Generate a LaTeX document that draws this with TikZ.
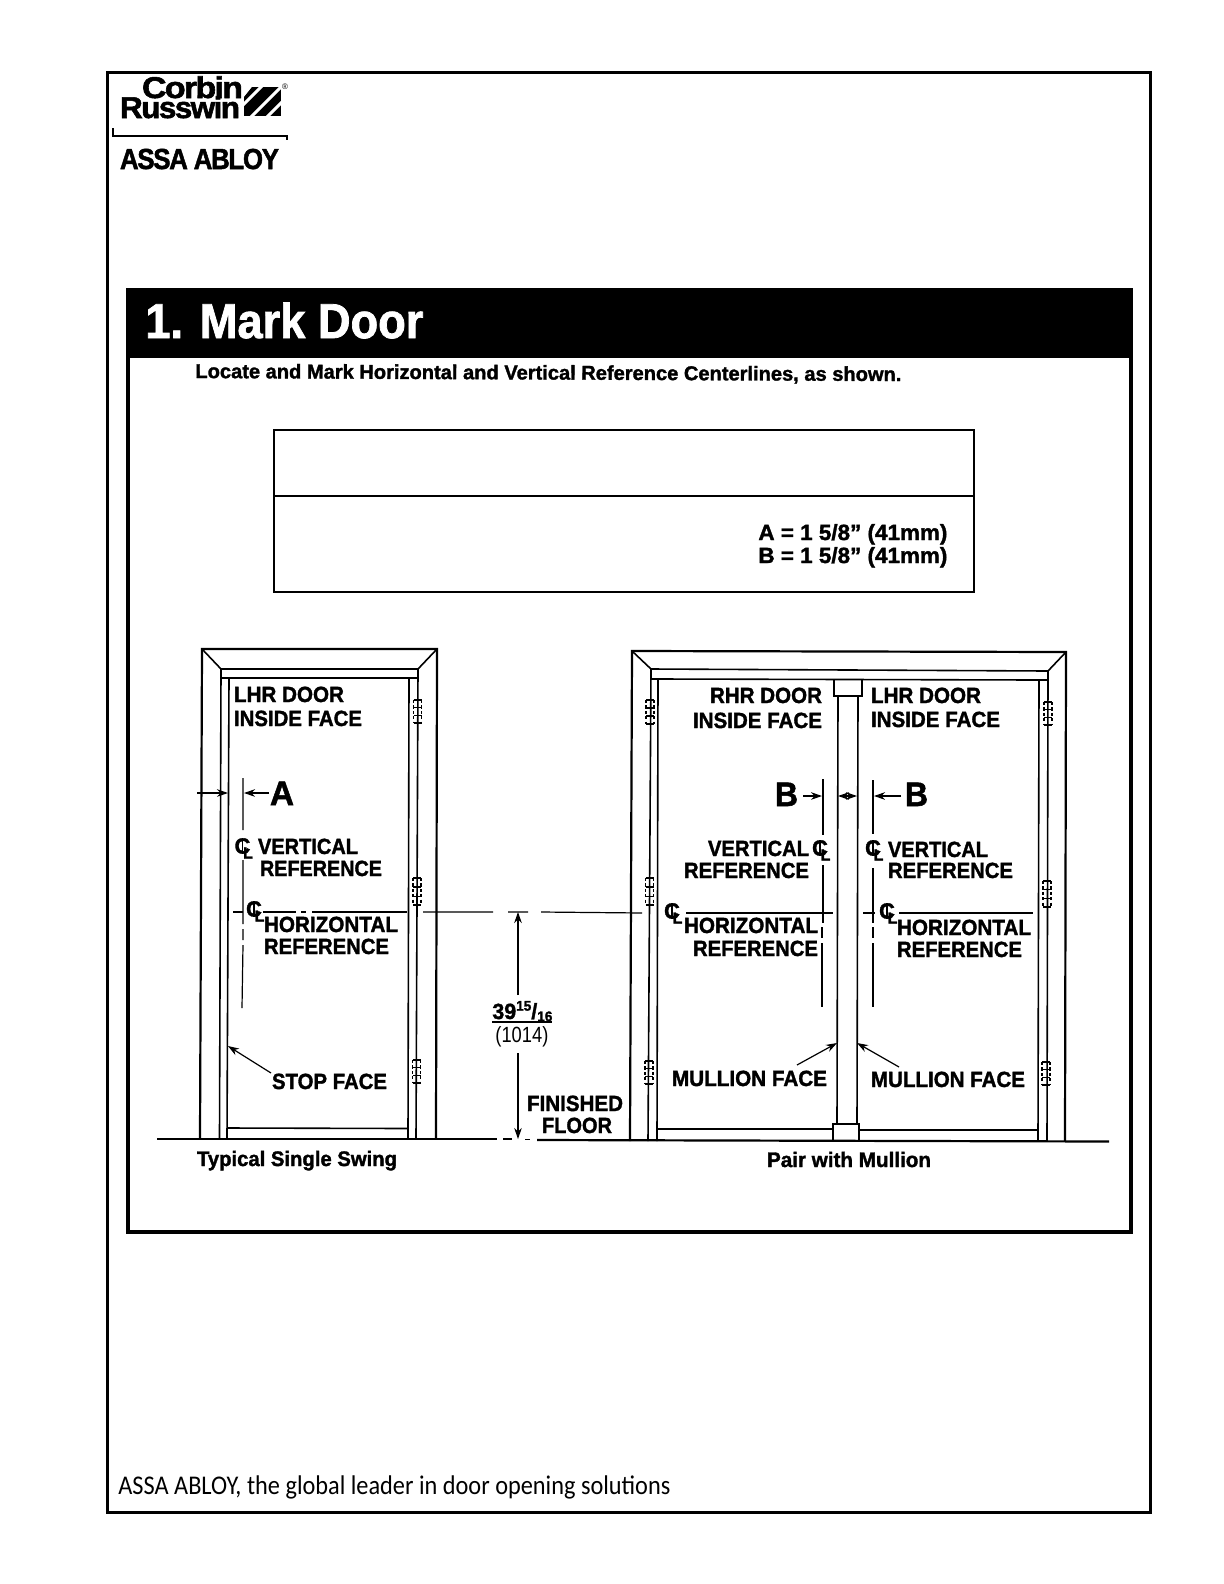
\documentclass[tikz,border=0pt]{standalone}
\usepackage{fontspec}
\usepackage{graphicx}
\setmainfont{Liberation Sans}
\newfontfamily\heavyfont[FakeBold=1.6]{Liberation Sans Bold}
\newfontfamily\logofont[FakeBold=1.8,LetterSpace=-5]{Liberation Sans Bold}
\newfontfamily\footfont{Carlito}
\usetikzlibrary{arrows.meta}
\newcommand\lbl[6]{\node[anchor=base west,inner sep=0pt,outer sep=0pt] (#1) at (#2,#3) {\resizebox{\dimexpr #5bp/2\relax}{\height}{\heavyfont\fontsize{#4bp}{#4bp}\selectfont #6}};}
\newcommand\lgo[6]{\node[anchor=base west,inner sep=0pt,outer sep=0pt] (#1) at (#2,#3) {\resizebox{\dimexpr #5bp/2\relax}{\height}{\logofont\fontsize{#4bp}{#4bp}\selectfont #6}};}
\newcommand\clsym[3]{%
  \node[inner sep=0pt,font=\heavyfont\fontsize{11bp}{11bp}\selectfont] (#1C) at (#2,#3) {C};
  \node[inner sep=0pt,font=\heavyfont\fontsize{8bp}{8bp}\selectfont] (#1L) at (#2+5.5,#3+7) {L};
  \draw[thinln] (#2,#3-8) -- (#2,#3+8);}
\newcommand\hingeat[3]{%
  \draw[hinge] (#1-4,#2) -- (#1-4,#3) (#1+4,#2) -- (#1+4,#3);
  \draw[hingebar] (#1-4,#2) -- (#1+4,#2);
  \draw[hingebar] (#1-4,#2+0.33*#3-0.33*#2) -- (#1+4,#2+0.33*#3-0.33*#2);
  \draw[hingebar] (#1-4,#2+0.67*#3-0.67*#2) -- (#1+4,#2+0.67*#3-0.67*#2);
  \draw[hingebar] (#1-4,#3) -- (#1+4,#3);}
\tikzset{
  frameln/.style={line width=1.5bp,draw=black},
  boxln/.style={line width=2bp,draw=black},
  tableln/.style={line width=1.2bp,draw=black},
  heavyln/.style={line width=1.1bp,draw=black},
  doorln/.style={line width=.8bp,draw=black},
  thinln/.style={line width=.6bp,draw=black},
  hinge/.style={line width=.9bp,draw=black,dash pattern=on 1.6bp off 1.1bp},
  hingebar/.style={line width=.6bp,draw=black},
  dimarrow/.style={line width=.6bp,draw=black,-{Stealth[length=5.5bp,width=3.8bp]}},
  twoarrow/.style={line width=.6bp,draw=black,{Stealth[length=5.5bp,width=3.8bp]}-{Stealth[length=5.5bp,width=3.8bp]}}
}
\begin{document}
\begin{tikzpicture}[x=0.5bp,y=-0.5bp]
\useasboundingbox (0,0) rectangle (1224,1584);
\fill[white] (0,0) rectangle (1224,1584);
% page frame
\draw[frameln] (107.5,72) rectangle (1150,1512);
% logo
\lgo{corbin}{142}{98}{15}{101}{Corbin}
\lgo{russwin}{120}{118}{15}{120}{Russwin}
\begin{scope}
\clip (252,87) -- (281,87) -- (281,116) -- (244,116) -- (244,97) -- cycle;
\fill[black] (244,87) rectangle (281,116);
\draw[white,line width=1.5bp] (240,108) -- (264,84);
\draw[white,line width=1.5bp] (250,118) -- (282,86);
\draw[white,line width=1.5bp] (264,120) -- (286,98);
\end{scope}
\node[inner sep=0pt,font=\fontsize{4bp}{4bp}\selectfont] (reg) at (285,87) {®};
\coordinate (brA) at (113,128);
\coordinate (brB) at (113,136);
\coordinate (brC) at (287,136);
\coordinate (brD) at (287,140);
\draw[thinln] (brA) -- (brB) -- (brC) -- (brD);
\lgo{assa}{120}{169}{14.5}{159}{ASSA ABLOY}
% header band and box
\draw[boxln] (128,356) rectangle (1131,1232);
\fill[black] (126,288) rectangle (1133,356);
\node[anchor=base west,inner sep=0pt] (title) at (145,338) {\resizebox{139bp}{\height}{\color{white}\heavyfont\fontsize{24.5bp}{24.5bp}\selectfont 1. Mark Door}};
\node[anchor=base west,inner sep=0pt,rotate=-0.25] (sub) at (195,378) {\resizebox{353bp}{\height}{\heavyfont\fontsize{10bp}{10bp}\selectfont Locate and Mark Horizontal and Vertical Reference Centerlines, as shown.}};
% table
\draw[tableln] (274,430) rectangle (974,592);
\draw[tableln] (274,496) -- (974,496);
\node[anchor=base west,inner sep=0pt] (dimA) at (758,540) {\resizebox{94.5bp}{\height}{\heavyfont\fontsize{11bp}{11bp}\selectfont A = 1 5/8” (41mm)}};
\node[anchor=base west,inner sep=0pt] (dimB) at (758,563) {\resizebox{94.5bp}{\height}{\heavyfont\fontsize{11bp}{11bp}\selectfont B = 1 5/8” (41mm)}};
% left door frame
\draw[heavyln] (200,1139) -- (202,649) -- (437,649) -- (436,1139);
\draw[doorln] (219.5,1139) -- (221,669) -- (418,669) -- (416,1139);
\draw[doorln] (227,1139) -- (229,678) -- (409,678) -- (408,1139);
\draw[doorln] (221,678) -- (229,678) (409,678) -- (418,678);
\draw[doorln] (202,649) -- (221,669) (437,649) -- (418,669);
\draw[doorln] (227,1128) -- (408,1128.5);
\hingeat{417.5}{700}{723}
\hingeat{417}{878}{905}
\hingeat{416.5}{1060}{1083}
% right door frame
\draw[heavyln] (630,1141) -- (632,651) -- (1066,652) -- (1065,1141);
\draw[doorln] (648,1141) -- (651,669) -- (1048,671) -- (1047,1141);
\draw[doorln] (657,1141) -- (658,679) -- (1039,680) -- (1038,1141);
\draw[doorln] (651,679) -- (658,679) (1039,680) -- (1048,680);
\draw[doorln] (632,651) -- (651,669) (1066,652) -- (1048,671);
\draw[doorln] (657,1129) -- (833,1129) (859,1130) -- (1038,1130);
\draw[doorln] (834,680) -- (834,696) -- (862,696) -- (862,680);
\draw[doorln] (838,696) -- (837,1124) (858,696) -- (857,1124);
\draw[heavyln] (833,1141) -- (833,1124) -- (859,1124) -- (859,1141);
\hingeat{650}{700}{724}
\hingeat{649.5}{878}{905}
\hingeat{649}{1061}{1084}
\hingeat{1048}{702}{725}
\hingeat{1047}{881}{907}
\hingeat{1046}{1062}{1085}
% floor
\draw[heavyln] (157,1139) -- (497,1139);
\draw[doorln] (503,1139) -- (512,1139) (525,1139.5) -- (530,1139.5);
\draw[heavyln] (537,1140) -- (1109,1141.5);
% horizontal centerline across the left door and the gap
\draw[thinln] (233,912) -- (243,912);
\draw[thinln] (263,912) -- (296,912) (301,912) -- (306,912) (312,912) -- (407,912);
\draw[thinln] (423,912) -- (493,912) (508,912) -- (528,912) (541,912) -- (642,913);
\draw[thinln] (686,913) -- (833,913);
\draw[thinln] (863,913) -- (875,913) (899,913) -- (1033,913);
% vertical centerlines
\draw[thinln] (243,778) -- (243,830) (243,860) -- (243,924) (243,929) -- (243,940) (243,945) -- (242,1008);
\draw[thinln] (823,779) -- (823,835) (823,865) -- (823,923) (822,927) -- (822,938) (822,943) -- (822,1007);
\draw[thinln] (873,780) -- (873,834) (873,868) -- (873,923) (873,927) -- (873,938) (873,943) -- (873,1007);
% centerline symbols
\clsym{clA}{242.5}{846}
\clsym{clAh}{254}{909}
\clsym{clR}{820}{848}
\clsym{clRh}{672}{911}
\clsym{clL}{873}{848}
\clsym{clLh}{887}{911}
% left door labels
\lbl{lhrA}{234}{702}{11}{110}{LHR DOOR}
\lbl{ifA}{234}{726}{11}{128}{INSIDE FACE}
\lbl{aL}{270}{805}{17}{24}{A}
\lbl{vA}{258}{854}{11}{100}{VERTICAL}
\lbl{rA}{260}{876}{11}{122}{REFERENCE}
\lbl{hA}{264}{932}{11}{134}{HORIZONTAL}
\lbl{rhA}{264}{954}{11}{125}{REFERENCE}
\lbl{stop}{272}{1089}{11}{115}{STOP FACE}
\lbl{capA}{197}{1166}{10.5}{200}{Typical Single Swing}
% right door labels
\lbl{rhr}{710}{703}{11}{112}{RHR DOOR}
\lbl{ifR}{693}{728}{11}{129}{INSIDE FACE}
\lbl{bR}{775}{806}{17}{23}{B}
\lbl{vR}{708}{856}{11}{101}{VERTICAL}
\lbl{rR}{684}{878}{11}{125}{REFERENCE}
\lbl{hR}{684}{933}{11}{134}{HORIZONTAL}
\lbl{rhR}{693}{956}{11}{125}{REFERENCE}
\lbl{mfR}{672}{1086}{11}{155}{MULLION FACE}
\lbl{lhrL}{871}{703}{11}{110}{LHR DOOR}
\lbl{ifL}{871}{727}{11}{129}{INSIDE FACE}
\lbl{bL}{905}{806}{17}{23}{B}
\lbl{vL}{888}{857}{11}{100}{VERTICAL}
\lbl{rL}{888}{878}{11}{125}{REFERENCE}
\lbl{hL}{897}{935}{11}{134}{HORIZONTAL}
\lbl{rhL}{897}{957}{11}{125}{REFERENCE}
\lbl{mfL}{871}{1087}{11}{154}{MULLION FACE}
\lbl{capR}{767}{1167}{10.5}{164}{Pair with Mullion}
% dimension
\lbl{fin}{527}{1111}{11}{96}{FINISHED}
\lbl{flr}{542}{1133}{11}{70}{FLOOR}
\node[anchor=base west,inner sep=0pt] (dimtop) at (492,1019) {\resizebox{30bp}{\height}{\heavyfont\fontsize{11bp}{11bp}\selectfont 39\raisebox{.38em}{\fontsize{7bp}{7bp}\selectfont 15}/\raisebox{-.1em}{\fontsize{7bp}{7bp}\selectfont 16}}};
\node[anchor=base west,inner sep=0pt] (dimbot) at (495,1042) {\resizebox{26.5bp}{\height}{\fontsize{11bp}{11bp}\selectfont (1014)}};
\coordinate (ulA) at (492,1022);
\coordinate (ulB) at (552,1022);
\draw[line width=.8bp] (ulA) -- (ulB);
% arrows
\coordinate (dimUpS) at (518,995);
\coordinate (dimUpE) at (518,912);
\coordinate (dimDnS) at (518,1053);
\coordinate (dimDnE) at (518,1139);
\draw[dimarrow] (dimUpS) -- (dimUpE);
\draw[dimarrow] (dimDnS) -- (dimDnE);
\coordinate (aIn) at (197,793);
\coordinate (aInE) at (228,793);
\coordinate (aOut) at (269,793);
\coordinate (aOutE) at (244,793);
\draw[dimarrow] (aIn) -- (aInE);
\draw[dimarrow] (aOut) -- (aOutE);
\coordinate (stopS) at (271,1073);
\coordinate (stopE) at (228,1046);
\draw[dimarrow] (stopS) -- (stopE);
\coordinate (bRs) at (803,796);
\coordinate (bRe) at (822,796);
\coordinate (bLs) at (901,796);
\coordinate (bLe) at (874,796);
\coordinate (mulA) at (838,796);
\coordinate (mulB) at (857,796);
\draw[dimarrow] (bRs) -- (bRe);
\draw[dimarrow] (bLs) -- (bLe);
\draw[twoarrow] (mulA) -- (mulB);
\coordinate (mfRs) at (797,1065);
\coordinate (mfRe) at (837,1043);
\coordinate (mfLs) at (899,1067);
\coordinate (mfLe) at (857,1043);
\draw[dimarrow] (mfRs) -- (mfRe);
\draw[dimarrow] (mfLs) -- (mfLe);
% footer
\node[anchor=base west,inner sep=0pt] (foot) at (118,1494) {\resizebox{276bp}{\height}{\footfont\fontsize{13.5bp}{13.5bp}\selectfont ASSA ABLOY, the global leader in door opening solutions}};
\end{tikzpicture}
\end{document}
